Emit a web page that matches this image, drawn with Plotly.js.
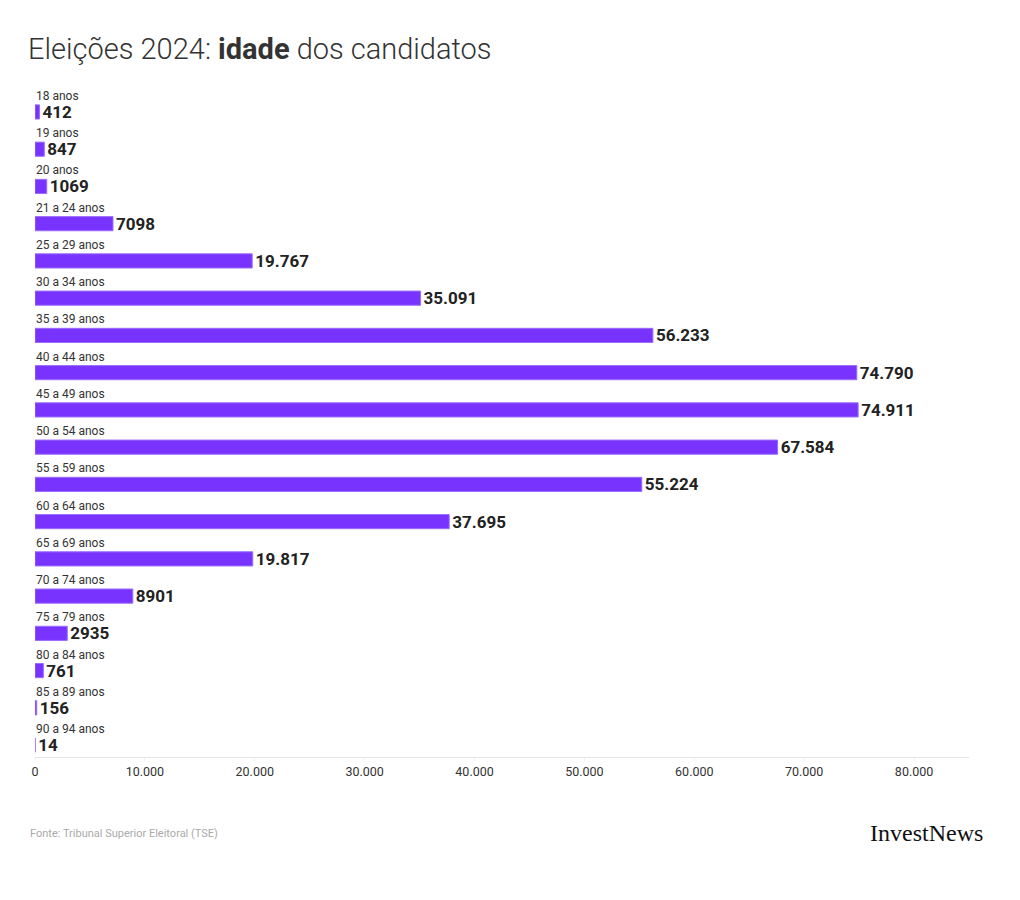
<!DOCTYPE html>
<html>
<head>
<meta charset="utf-8">
<script src="https://cdn.plot.ly/plotly-3.0.1.min.js"></script>
<style>html,body{margin:0;padding:0;background:#fff;}#chart{width:1020px;height:900px;}</style>
</head>
<body>
<div id="chart"></div>
<script>
const categories = ["18 anos","19 anos","20 anos","21 a 24 anos","25 a 29 anos","30 a 34 anos","35 a 39 anos","40 a 44 anos","45 a 49 anos","50 a 54 anos","55 a 59 anos","60 a 64 anos","65 a 69 anos","70 a 74 anos","75 a 79 anos","80 a 84 anos","85 a 89 anos","90 a 94 anos"];
const candidates = [412,847,1069,7098,19767,35091,56233,74790,74911,67584,55224,37695,19817,8901,2935,761,156,14];
const tickValues = [0,10000,20000,30000,40000,50000,60000,70000,80000];

function fmt(v){
  if (v < 10000) return String(v);
  return String(v).replace(/\B(?=(\d{3})+(?!\d))/g, ".");
}
const labels = candidates.map(fmt);

const trace = {
  type: "bar",
  orientation: "h",
  x: candidates,
  y: categories,
  width: 0.38,
  marker: {color: "#7833ff", line: {color: "#9b6cff", width: 1}},
  text: labels,
  textposition: "outside",
  constraintext: "none",
  cliponaxis: false,
  textfont: {family: "Roboto", size: 17, color: "#222", weight: 700},
  hoverinfo: "none"
};

const annotations = categories.map(c => ({
  x: 0, y: c, xref: "x", yref: "y",
  text: c, showarrow: false, xanchor: "left", yanchor: "middle",
  yshift: 16, xshift: -1,
  font: {family: "Roboto", size: 12, color: "#333"}
}));
annotations.push({
  xref: "paper", yref: "paper", x: -0.008, y: -0.114, xanchor: "left", yanchor: "middle",
  text: "Fonte: Tribunal Superior Eleitoral (TSE)", showarrow: false,
  font: {family: "Roboto", size: 11, color: "#aaa"}
});
annotations.push({
  xref: "paper", yref: "paper", x: 1.017, y: -0.113, xanchor: "right", yanchor: "middle",
  text: "InvestNews", showarrow: false,
  font: {family: "Liberation Serif", size: 24, color: "#111"}
});

const layout = {
  width: 1020, height: 900,
  margin: {l: 35, r: 51, t: 87, b: 143},
  paper_bgcolor: "#fff", plot_bgcolor: "#fff",
  separators: ",.",
  showlegend: false,
  title: {
    text: "Eleições 2024: <b>idade</b> dos candidatos",
    x: 0.0275, xanchor: "left", y: 0.946, yanchor: "middle",
    font: {family: "Roboto", size: 29, color: "#333", weight: 300}
  },
  xaxis: {
    range: [0, 85000],
    tickvals: tickValues,
    tickformat: ",d",
    showgrid: false, zeroline: false,
    showline: true, linecolor: "#e4e4e4", linewidth: 1,
    ticks: "outside", ticklen: 3, tickcolor: "#f2f2f2",
    tickfont: {family: "Roboto", size: 12.5, color: "#333"},
    fixedrange: true
  },
  yaxis: {
    type: "category",
    range: [17.32, -0.67],
    showticklabels: false, showgrid: false, zeroline: false, showline: false,
    fixedrange: true
  },
  annotations: annotations
};

Plotly.newPlot("chart", [trace], layout, {displayModeBar: false, staticPlot: true});
</script>
</body>
</html>
